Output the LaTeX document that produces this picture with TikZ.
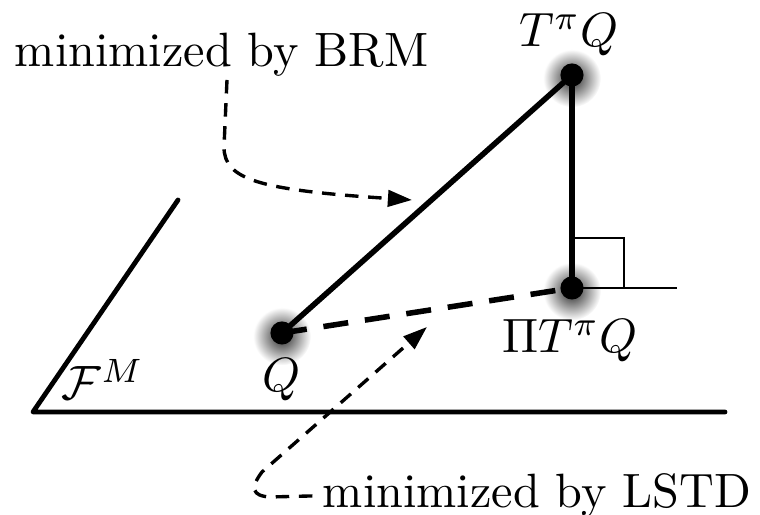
\documentclass[tikz,border=0pt]{standalone}
\usetikzlibrary{arrows.meta, positioning, calc}

\pgfdeclarelayer{bg}
\pgfsetlayers{bg,main}

\begin{document}
\begin{tikzpicture}[x=0.0073cm, y=-0.0073cm, >={Triangle[length=5pt, width=3.4pt]}]
    \tikzstyle{pt} = [circle, fill=black, inner sep=0pt, minimum size=4.8pt]
    \tikzstyle{glow} = [inner color=black!85, outer color=white]
    \tikzstyle{lbl} = [inner sep=0pt]
    \tikzstyle{axis} = [line width=1pt, line cap=round, line join=round]
    \tikzstyle{proj} = [line width=1.15pt]
    \tikzstyle{hint} = [->, line width=0.7pt, dash pattern=on 2.8pt off 2pt]

    \useasboundingbox (0,0) rectangle (760,515);

    % Nodes
    \coordinate (o) at (33,412);
    \coordinate (xend) at (725,412);
    \coordinate (yend) at (178,200);
    \node [pt] (q) at (282,333) {};
    \node [pt] (tq) at (572,75) {};
    \node [pt] (ptq) at (572,288) {};
    \coordinate (perp) at (677,288);

    \node [lbl, anchor=base] (tqlabel) at (569,47) {$T^\pi Q$};
    \node [lbl, anchor=base] (ptqlabel) at (570,353) {$\Pi T^\pi Q$};
    \node [lbl, anchor=base] (qlabel) at (282,392) {$Q$};
    \node [lbl, anchor=base] (flabel) at (103,400) {$\mathcal{F}^M$};
    \node [lbl, anchor=base west] (brm) at (14,67) {minimized by BRM};
    \node [lbl, anchor=base west] (lstd) at (322,508) {minimized by LSTD};

    \coordinate (brmfrom) at (227,80);
    \coordinate (brmto) at (412,200);
    \coordinate (lstdto) at (427,327);

    \begin{pgfonlayer}{bg}
        \foreach \n in {q,tq,ptq}
            \shade [glow] ([yshift=-0.7pt]\n) circle (6pt);
    \end{pgfonlayer}

    % Connections
    \draw [axis] (yend) -- (o) -- (xend);
    \draw [proj] (q.center) -- (tq.center);
    \draw [proj] (tq.center) -- (ptq.center);
    \draw [proj, dash pattern=on 5.2pt off 3.5pt] (q.center) -- (ptq.center);
    \draw [line width=0.45pt] (ptq.center) -- (perp);
    \draw [line width=0.45pt] ($(ptq)+(0,-50)$) -| ($(ptq)+(52,0)$);

    \draw [hint] (brmfrom) -- (224,147) .. controls (224,180) and (260,190) .. (brmto);
    \draw [hint] ([xshift=-2pt]lstd.west) -- (270,497) .. controls (252,496) and (250,488) .. (262,472) -- (lstdto);
\end{tikzpicture}
\end{document}
